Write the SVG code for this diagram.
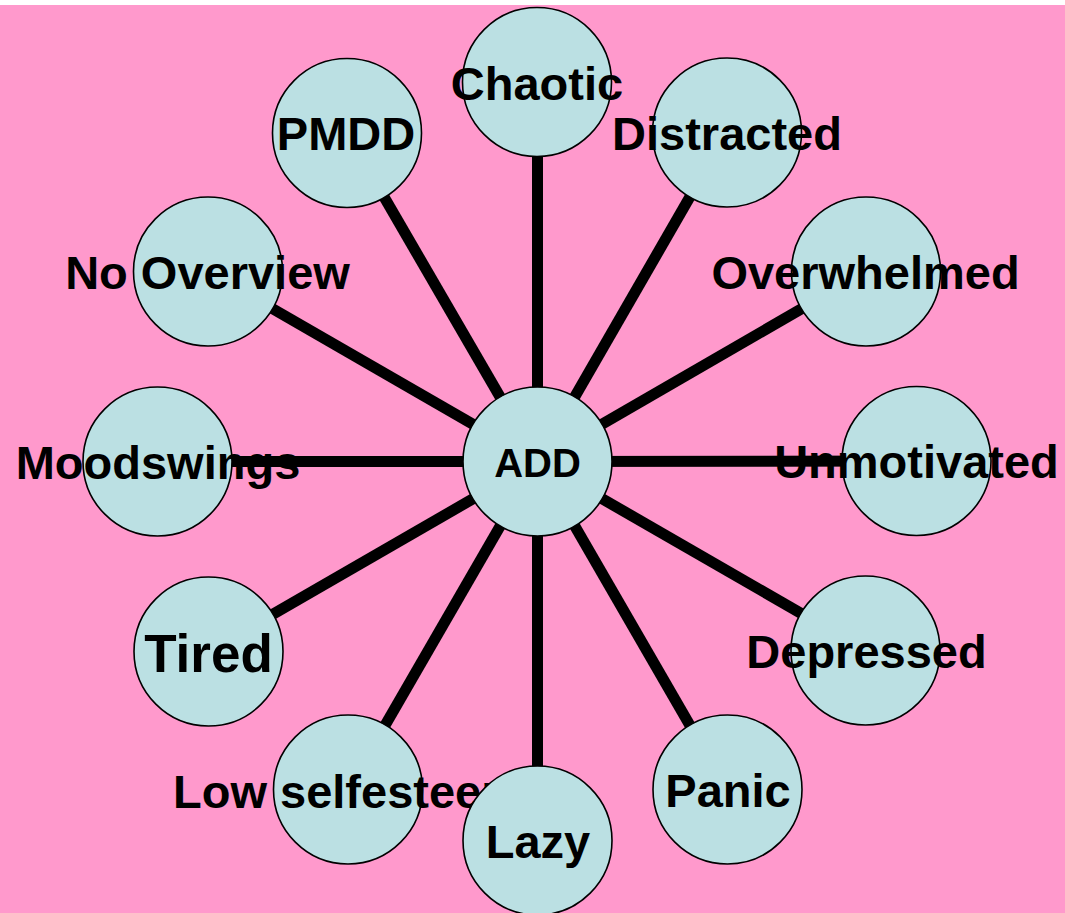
<svg xmlns="http://www.w3.org/2000/svg" width="1065" height="913" viewBox="0 0 1065 913">
<style>
.bg{fill:#FF99CC}
.n circle{fill:#BBE0E3;stroke:#000;stroke-width:1.6}
.n text{font-family:"Liberation Sans",Arial,sans-serif;font-weight:bold;font-size:47px;fill:#000;text-anchor:middle}
.c line{stroke:#000;stroke-width:11}
</style>
<rect x="0" y="0" width="1065" height="913" fill="#ffffff"/>
<rect class="bg" x="0" y="5" width="1065" height="908"/>
<g id="connectors" class="c">
<line x1="537.5" y1="461.5" x2="537.5" y2="82"/>
<line x1="537.5" y1="461.5" x2="727" y2="132.5"/>
<line x1="537.5" y1="461.5" x2="866" y2="271.5"/>
<line x1="537.5" y1="461.5" x2="916.5" y2="461"/>
<line x1="537.5" y1="461.5" x2="865.5" y2="650.5"/>
<line x1="537.5" y1="461.5" x2="727" y2="789.5"/>
<line x1="537.5" y1="461.5" x2="537.5" y2="840.5"/>
<line x1="537.5" y1="461.5" x2="348" y2="789.5"/>
<line x1="537.5" y1="461.5" x2="208.5" y2="651.5"/>
<line x1="537.5" y1="461.5" x2="157.5" y2="461.5"/>
<line x1="537.5" y1="461.5" x2="208" y2="271.5"/>
<line x1="537.5" y1="461.5" x2="347" y2="133"/>
</g>
<g id="node-add" class="n"><circle cx="537.5" cy="461.5" r="74.5"/><text x="537.5" y="477" style="font-size:40px">ADD</text></g>
<g id="node-chaotic" class="n"><circle cx="537" cy="82" r="74.5"/><text x="537" y="100">Chaotic</text></g>
<g id="node-distracted" class="n"><circle cx="727" cy="132.5" r="74.5"/><text x="727" y="150">Distracted</text></g>
<g id="node-overwhelmed" class="n"><circle cx="866" cy="271.5" r="74.5"/><text x="865.5" y="289">Overwhelmed</text></g>
<g id="node-unmotivated" class="n"><circle cx="916.5" cy="461" r="74.5"/><text x="916.5" y="478">Unmotivated</text></g>
<g id="node-depressed" class="n"><circle cx="865.5" cy="650.5" r="74.5"/><text x="866.5" y="668">Depressed</text></g>
<g id="node-panic" class="n"><circle cx="727.5" cy="789.5" r="74.5"/><text x="728" y="807">Panic</text></g>
<g id="node-lowselfesteem" class="n"><circle cx="348" cy="789.5" r="74.5"/><text x="348" y="808">Low selfesteem</text></g>
<g id="node-lazy" class="n"><circle cx="537.5" cy="840.5" r="74.5"/><text x="538" y="858">Lazy</text></g>
<g id="node-tired" class="n"><circle cx="208.5" cy="651.5" r="74.5"/><text x="208.5" y="672" style="font-size:53px">Tired</text></g>
<g id="node-moodswings" class="n"><circle cx="157.5" cy="461.5" r="74.5"/><text x="158" y="479">Moodswings</text></g>
<g id="node-nooverview" class="n"><circle cx="208" cy="271.5" r="74.5"/><text x="207.5" y="289">No Overview</text></g>
<g id="node-pmdd" class="n"><circle cx="347" cy="133" r="74.5"/><text x="346" y="150">PMDD</text></g>
</svg>
